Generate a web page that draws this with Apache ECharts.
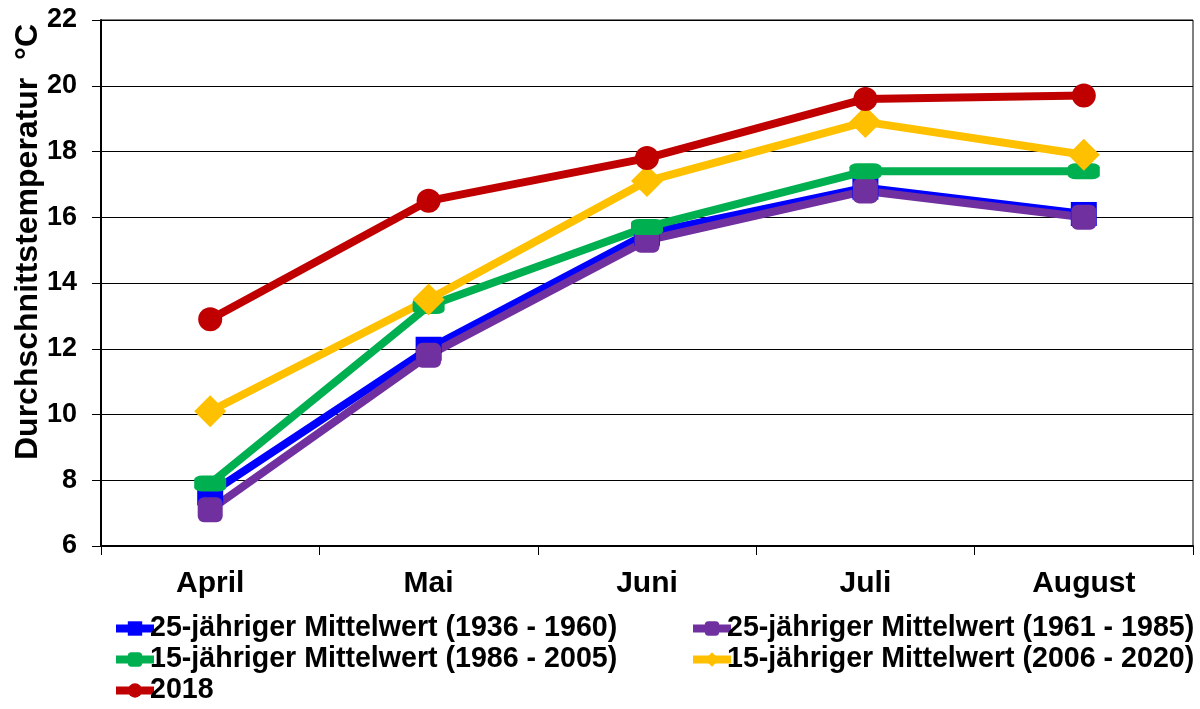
<!DOCTYPE html>
<html>
<head>
<meta charset="utf-8">
<script src="https://cdn.jsdelivr.net/npm/echarts@6/dist/echarts.min.js"></script>
<style>
  html, body { margin: 0; padding: 0; background: #fff; }
  #chart { width: 1200px; height: 709px; }
</style>
</head>
<body>
<div id="chart"></div>
<script>
var months = ['April', 'Mai', 'Juni', 'Juli', 'August'];
var yTicks = [6, 8, 10, 12, 14, 16, 18, 20, 22];

var names = [
    '25-jähriger Mittelwert (1936 - 1960)',
    '25-jähriger Mittelwert (1961 - 1985)',
    '15-jähriger Mittelwert (1986 - 2005)',
    '15-jähriger Mittelwert (2006 - 2020)',
    '2018'
];

var mittel1936 = [7.6, 12.0, 15.5, 16.9, 16.1];
var mittel1961 = [7.1, 11.8, 15.3, 16.8, 16.0];
var mittel1986 = [7.9, 13.3, 15.7, 17.4, 17.4];
var mittel2006 = [10.1, 13.5, 17.1, 18.9, 17.9];
var jahr2018   = [12.9, 16.5, 17.8, 19.6, 19.7];

var myChart = echarts.init(document.getElementById('chart'));
var font = '"Liberation Sans", Arial, sans-serif';

function line(name, data, color, symbol, size) {
    return {
        name: name,
        type: 'line',
        data: data,
        symbol: symbol,
        symbolSize: size,
        showAllSymbol: true,
        lineStyle: { color: color, width: 8 },
        itemStyle: { color: color, borderWidth: 0 },
        emphasis: { disabled: true },
        animation: false
    };
}

function legendAt(name, left, top) {
    return {
        data: [name],
        left: left,
        top: top,
        itemWidth: 38,
        itemHeight: 18,
        itemGap: 0,
        padding: 0,
        lineStyle: { width: 8 },
        textStyle: {
            fontFamily: font,
            fontWeight: 'bold',
            fontSize: 28.6,
            color: '#000',
            padding: [0, 0, 0, -9]
        }
    };
}

var option = {
    backgroundColor: '#fff',
    textStyle: { fontFamily: font },
    grid: {
        left: 101,
        right: 7,
        top: 20,
        bottom: 163,
        show: true,
        borderColor: '#000',
        borderWidth: 1
    },
    legend: [
        legendAt(names[0], 112, 614),
        legendAt(names[1], 689, 614),
        legendAt(names[2], 112, 645),
        legendAt(names[3], 689, 645),
        legendAt(names[4], 112, 676)
    ],
    graphic: [{
        type: 'text',
        x: 28,
        y: 242,
        rotation: Math.PI / 2,
        style: {
            text: 'Durchschnittstemperatur  °C',
            font: 'bold 32px ' + font,
            fill: '#000',
            align: 'center',
            verticalAlign: 'middle'
        }
    }],
    xAxis: {
        type: 'category',
        data: months,
        boundaryGap: true,
        axisLine: { lineStyle: { color: '#000', width: 2 } },
        axisTick: { show: true, length: 9, lineStyle: { color: '#000', width: 1 } },
        axisLabel: {
            margin: 23,
            fontFamily: font,
            fontWeight: 'bold',
            fontSize: 30,
            color: '#000'
        }
    },
    yAxis: {
        type: 'value',
        min: yTicks[0],
        max: yTicks[yTicks.length - 1],
        interval: 2,
        axisLine: { show: true, lineStyle: { color: '#000', width: 2 } },
        axisTick: { show: true, length: 9, lineStyle: { color: '#000', width: 1 } },
        splitLine: { show: true, lineStyle: { color: '#000', width: 1 } },
        axisLabel: {
            margin: 24,
            fontFamily: font,
            fontWeight: 'bold',
            fontSize: 27,
            color: '#000'
        }
    },
    series: [
        line(names[0], mittel1936, '#0000FF', 'rect', [26, 24]),
        line(names[1], mittel1961, '#7030A0', 'roundRect', [25, 25]),
        line(names[2], mittel1986, '#00B050', 'roundRect', [32, 16]),
        line(names[3], mittel2006, '#FFC000', 'diamond', [32, 32]),
        line(names[4], jahr2018, '#C00000', 'circle', [24, 24])
    ]
};

myChart.setOption(option);
</script>
</body>
</html>
